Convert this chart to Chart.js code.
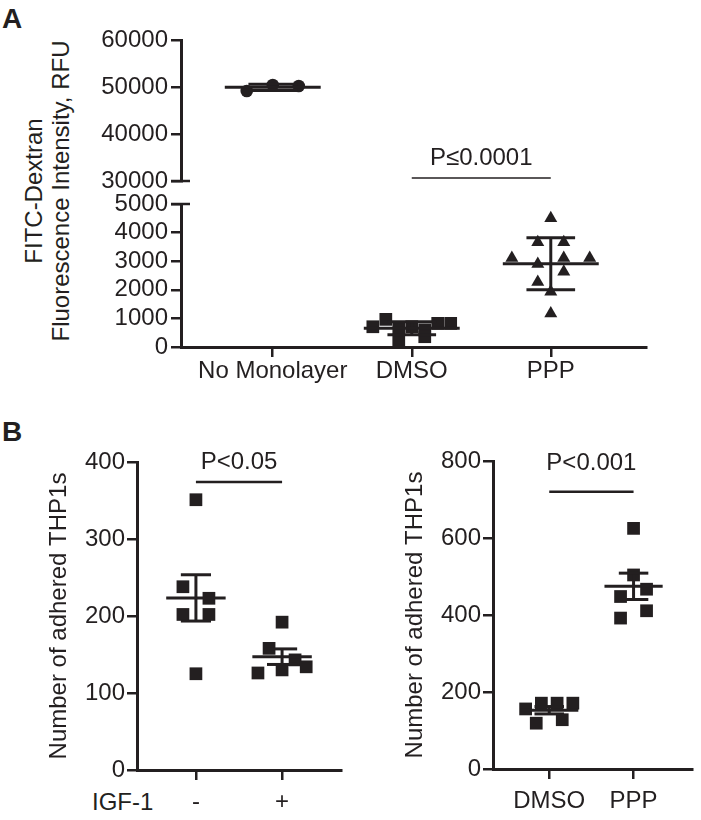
<!DOCTYPE html>
<html>
<head>
<meta charset="utf-8">
<script src="https://cdn.jsdelivr.net/npm/chart.js@4.4.1/dist/chart.umd.min.js"></script>
<style>
body { margin: 0; background: #fff; }
#fig { position: relative; width: 701px; height: 820px; overflow: hidden;
  font-family: 'Liberation Sans', Arial, Helvetica, sans-serif; color: #231f20; }
#fig canvas { position: absolute; }
.lbl { position: absolute; font-size: 24px; line-height: 28px; white-space: nowrap; }
.panel { position: absolute; font-size: 28px; font-weight: bold; line-height: 28px; }
#titleA { position: absolute; left: -153px; top: 164px; width: 400px; height: 54px;
  font-size: 24px; line-height: 27px; text-align: center; transform: rotate(-90deg); }
</style>
</head>
<body>
<div id="fig">
  <div class="panel" style="left:2px;top:5px">A</div>
  <div class="panel" style="left:2px;top:418px">B</div>
  <div id="titleA">FITC-Dextran<br>Fluorescence Intensity, RFU</div>
  <div class="lbl" style="left:92px;top:788px">IGF-1</div>
  <canvas id="aTop" width="701" height="210" style="left:0;top:0"></canvas>
  <canvas id="aBot" width="701" height="220" style="left:0;top:180px"></canvas>
  <canvas id="bLeft" width="350" height="420" style="left:0;top:400px"></canvas>
  <canvas id="bRight" width="351" height="420" style="left:350px;top:400px"></canvas>
</div>
<script>
// panel A
var categoriesA = ['No Monolayer', 'DMSO', 'PPP'];
var noMonolayerA = [49150, 50430, 50200];
var dmsoA = [708, 966, 650, 708, 600, 826, 826, 244, 360];
var pppA = [4500, 3660, 3660, 3110, 2900, 3110, 3110, 2270, 2630, 1930, 1170];
var ticksATop = [30000, 40000, 50000, 60000];
var ticksABot = [0, 1000, 2000, 3000, 4000, 5000];

// panel B, left
var categoriesB1 = ['-', '+'];
var igfMinus = [351, 238, 223, 202, 202, 125];
var igfPlus = [192, 158, 143, 126, 130, 134];
var ticksB1 = [0, 100, 200, 300, 400];

// panel B, right
var categoriesB2 = ['DMSO', 'PPP'];
var dmsoB = [156, 171, 171, 171, 119, 128];
var pppB = [625, 504, 448, 467, 392, 411];
var ticksB2 = [0, 200, 400, 600, 800];

// significance bars
var sigA = {from: 1, to: 2, y: 30640, textY: 34900, text: 'P≤0.0001'};
var sigB1 = {from: 0, to: 1, y: 374, textY: 399, text: 'P<0.05'};
var sigB2 = {from: 0, to: 1, y: 720, textY: 794, text: 'P<0.001'};

var INK = '#231f20';
var FONT = "'Liberation Sans', Arial, Helvetica, sans-serif";
var MARK = 13;      // symbol size, px
var SPREAD = 0.28;  // max half width of a row of symbols, in category units

Chart.defaults.font.family = FONT;
Chart.defaults.font.size = 24;
Chart.defaults.color = INK;

function seg(ctx, x, y, x0, y0, x1, y1) {
  ctx.beginPath();
  ctx.moveTo(x.getPixelForValue(x0), y.getPixelForValue(y0));
  ctx.lineTo(x.getPixelForValue(x1), y.getPixelForValue(y1));
  ctx.stroke();
}

// mean line with SD or SEM bars
var groupStats = {
  id: 'groupStats',
  afterDatasetsDraw: function (chart, args, opts) {
    var x = chart.scales.x, y = chart.scales.y, ctx = chart.ctx;
    ctx.save();
    ctx.strokeStyle = INK;
    ctx.lineWidth = 3;
    chart.data.datasets.forEach(function (ds) {
      var v = ds.values, n = v.length;
      var mean = v.reduce(function (a, b) { return a + b; }, 0) / n;
      var sd = Math.sqrt(v.reduce(function (a, b) { return a + (b - mean) * (b - mean); }, 0) / (n - 1));
      var err = opts.err == 'sem' ? sd / Math.sqrt(n) : sd;
      var c = ds.cat;
      seg(ctx, x, y, c, mean - err, c, mean + err);
      seg(ctx, x, y, c - 0.175, mean + err, c + 0.175, mean + err);
      seg(ctx, x, y, c - 0.175, mean - err, c + 0.175, mean - err);
      seg(ctx, x, y, c - 0.345, mean, c + 0.345, mean);
    });
    ctx.restore();
  }
};

var sigBar = {
  id: 'sigBar',
  afterDraw: function (chart, args, opts) {
    var x = chart.scales.x, y = chart.scales.y, ctx = chart.ctx;
    ctx.save();
    ctx.strokeStyle = INK;
    ctx.lineWidth = opts.width;
    seg(ctx, x, y, opts.from, opts.y, opts.to, opts.y);
    ctx.fillStyle = INK;
    ctx.font = '24px ' + FONT;
    ctx.textAlign = 'center';
    ctx.textBaseline = 'middle';
    ctx.fillText(opts.text, x.getPixelForValue((opts.from + opts.to) / 2), y.getPixelForValue(opts.textY));
    ctx.restore();
  }
};

// little tick across the axis where it is broken
var axisBreak = {
  id: 'axisBreak',
  afterDraw: function (chart, args, opts) {
    var y = chart.scales.y, ctx = chart.ctx;
    var py = y.getPixelForValue(opts.edge == 'min' ? y.min : y.max);
    var left = chart.chartArea.left;
    ctx.save();
    ctx.strokeStyle = INK;
    ctx.lineWidth = 2.5;
    ctx.beginPath();
    ctx.moveTo(left - 10, py);
    ctx.lineTo(left + 9, py);
    ctx.stroke();
    ctx.restore();
  }
};

// spread points of one group sideways, row by row, like a scatter dot plot
function swarm(chart) {
  var x = chart.scales.x, y = chart.scales.y;
  var unit = Math.abs(x.getPixelForValue(1) - x.getPixelForValue(0));
  chart.data.datasets.forEach(function (ds) {
    var vals = ds.values;
    var order = vals.map(function (v, i) { return i; });
    order.sort(function (a, b) { return vals[b] - vals[a]; });
    var rows = [];
    order.forEach(function (i) {
      var py = y.getPixelForValue(vals[i]);
      var last = rows[rows.length - 1];
      if (last && Math.abs(py - last.top) < MARK) last.items.push(i);
      else rows.push({top: py, items: [i]});
    });
    var xs = [];
    rows.forEach(function (r) {
      r.items.sort(function (a, b) { return a - b; });
      var n = r.items.length;
      var step = n > 1 ? Math.min(2 * MARK / unit, 2 * SPREAD / (n - 1)) : 0;
      r.items.forEach(function (i, k) { xs[i] = ds.cat + (k - (n - 1) / 2) * step; });
    });
    ds.data = vals.map(function (v, i) { return {x: xs[i], y: v}; });
  });
  chart.update('none');
}

function makeChart(id, o) {
  var datasets = o.groups.map(function (g, i) {
    return {
      values: g.values,
      cat: i + (o.first || 0),
      data: g.values.map(function (v) { return {x: i, y: v}; }),
      pointStyle: g.style,
      pointRadius: g.r,
      pointHoverRadius: g.r,
      pointBackgroundColor: INK,
      pointBorderWidth: 0,
      showLine: false
    };
  });
  var plugins = [groupStats];
  var pluginOpts = {legend: {display: false}, tooltip: {enabled: false}, groupStats: {err: o.err}};
  if (o.sig) { plugins.push(sigBar); pluginOpts.sigBar = Object.assign({width: o.sigWidth}, o.sig); }
  if (o.brk) { plugins.push(axisBreak); pluginOpts.axisBreak = {edge: o.brk}; }

  var chart = new Chart(document.getElementById(id), {
    type: 'scatter',
    data: {datasets: datasets},
    plugins: plugins,
    options: {
      responsive: false,
      animation: false,
      layout: {padding: o.pad},
      plugins: pluginOpts,
      scales: {
        x: {
          type: 'linear',
          display: o.showX,
          min: o.xMin,
          max: o.xMax,
          afterBuildTicks: function (s) { s.ticks = o.cats.map(function (c, i) { return {value: i}; }); },
          afterFit: function (s) { if (o.showX) s.height = 45; },
          ticks: {padding: o.xPad, autoSkip: false, maxRotation: 0, callback: function (v, i) { return o.cats[i]; }},
          grid: {drawOnChartArea: false, tickLength: 10, lineWidth: 2.5, color: INK},
          border: {display: true, width: 3, color: INK}
        },
        y: {
          type: 'linear',
          min: o.yTicks[0],
          max: o.yTicks[o.yTicks.length - 1],
          afterBuildTicks: function (s) { s.ticks = o.yTicks.map(function (v) { return {value: v}; }); },
          afterFit: function (s) { s.width = o.yWidth; },
          ticks: {padding: o.yPad, autoSkip: false, callback: function (v) { return String(v); }},
          grid: {drawOnChartArea: false, tickLength: 10, lineWidth: 2.5, color: INK},
          border: {display: true, width: 3, color: INK},
          title: o.title ? {display: true, text: o.title, color: INK, font: {size: 24}, padding: {top: o.titlePad, bottom: 0}} : {display: false}
        }
      }
    }
  });
  swarm(chart);
  return chart;
}

var chartATop = makeChart('aTop', {
  cats: categoriesA, showX: false, xMin: -0.66, xMax: 2.685,
  groups: [{values: noMonolayerA, style: 'circle', r: 6.3}],
  yTicks: ticksATop, yWidth: 181, yPad: 3, xPad: 0, err: 'sd',
  pad: {left: 0, right: 55, top: 40, bottom: 29},
  sig: sigA, sigWidth: 1.5, brk: 'min'
});

var chartABot = makeChart('aBot', {
  cats: categoriesA, showX: true, xMin: -0.66, xMax: 2.685, first: 1,
  groups: [{values: dmsoA, style: 'rect', r: 9}, {values: pppA, style: 'triangle', r: 7.5}],
  yTicks: ticksABot, yWidth: 181, yPad: 3, xPad: 0, err: 'sd',
  pad: {left: 0, right: 55, top: 24, bottom: 8},
  brk: 'max'
});

var chartB1 = makeChart('bLeft', {
  cats: categoriesB1, showX: true, xMin: -0.684, xMax: 1.684,
  groups: [{values: igfMinus, style: 'rect', r: 9}, {values: igfPlus, style: 'rect', r: 9}],
  yTicks: ticksB1, yWidth: 137, yPad: 2, xPad: 8, err: 'sem',
  title: 'Number of adhered THP1s', titlePad: 45,
  pad: {left: 0, right: 5, top: 62, bottom: 5},
  sig: sigB1, sigWidth: 2.5
});

var chartB2 = makeChart('bRight', {
  cats: categoriesB2, showX: true, xMin: -0.667, xMax: 1.693,
  groups: [{values: dmsoB, style: 'rect', r: 9}, {values: pppB, style: 'rect', r: 9}],
  yTicks: ticksB2, yWidth: 143, yPad: 2, xPad: 8, err: 'sem',
  title: 'Number of adhered THP1s', titlePad: 51,
  pad: {left: 0, right: 1, top: 61, bottom: 6},
  sig: sigB2, sigWidth: 2.5
});
</script>
</body>
</html>
